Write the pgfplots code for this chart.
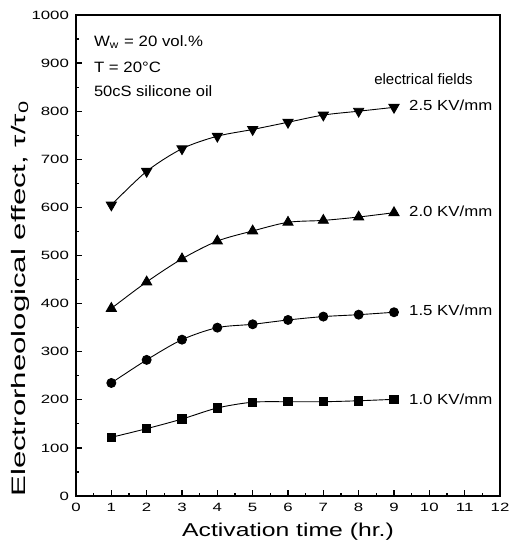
\documentclass[border=0pt]{standalone}
\usepackage{pgfplots}
\pgfplotsset{compat=1.18}
\usepackage{fontspec}
\setmainfont{Liberation Sans}
\usepackage{graphicx}
\begin{document}
\begin{tikzpicture}
\begin{axis}[
  at={(0,0)}, anchor=south west,
  scale only axis,
  width=212pt, height=240.5pt,
  xmin=0, xmax=12, ymin=0, ymax=1000,
  xtick={0,1,...,12}, ytick={0,100,...,1000},
  minor x tick num=1, minor y tick num=1,
  tick pos=left, tick align=inside,
  major tick length=3pt, minor tick length=1.6pt,
  axis line style={line width=0.8pt},
  every tick/.style={black, line width=0.6pt},
  /pgf/number format/assume math mode=true,
  /pgf/number format/1000 sep={},
  xticklabel={\scalebox{1.4}[1]{\fontsize{6}{7}\selectfont\pgfmathprintnumber{\tick}}},
  yticklabel={\scalebox{1.4}[1]{\fontsize{6}{7}\selectfont\pgfmathprintnumber{\tick}}},
  xlabel={\scalebox{1.33}[1]{\fontsize{9.3}{11}\selectfont Activation time (hr.)}},
  ylabel={\scalebox{1.6}[1]{\fontsize{9.75}{11}\selectfont Electrorheological effect, τ/τ\textsubscript{0}}},
  ylabel style={at={(axis description cs:-0.132,0.411)}, anchor=center},
  xlabel style={at={(axis description cs:0.5,-0.075)}, anchor=center},
]
\addplot[black, line width=0.45pt, smooth, mark=triangle*, mark options={rotate=180, fill=black, solid}, mark size=2.9pt] coordinates {
 (1,605) (2,675) (3,722) (4,748) (5,762) (6,777) (7,792) (8,800) (9,808)};
\addplot[black, line width=0.45pt, smooth, mark=triangle*, mark options={fill=black, solid}, mark size=2.9pt] coordinates {
 (1,390) (2,445) (3,493) (4,530) (5,551) (6,569) (7,573) (8,580) (9,589)};
\addplot[black, line width=0.45pt, smooth, mark=*, mark options={fill=black, solid}, mark size=2.25pt] coordinates {
 (1,235) (2,283) (3,325) (4,350) (5,357) (6,366) (7,373) (8,377) (9,382)};
\addplot[black, line width=0.45pt, smooth, mark=square*, mark options={fill=black, solid}, mark size=2.1pt] coordinates {
 (1,122) (2,140) (3,160) (4,183) (5,195) (6,196) (7,196) (8,198) (9,201)};
\node[anchor=west, inner sep=0pt] at (axis cs:0.5,944) {\scalebox{1.12}[1]{\fontsize{7.5}{9}\selectfont W\textsubscript{w} = 20 vol.\%}};
\node[anchor=west, inner sep=0pt] at (axis cs:0.5,892) {\scalebox{1.12}[1]{\fontsize{7.5}{9}\selectfont T = 20°C}};
\node[anchor=west, inner sep=0pt] at (axis cs:0.5,841) {\scalebox{1.1}[1]{\fontsize{7.5}{9}\selectfont 50cS silicone oil}};
\node[anchor=west, inner sep=0pt] at (axis cs:8.43,867) {\fontsize{7.5}{9}\selectfont electrical fields};
\node[anchor=west, inner sep=0pt] at (axis cs:9.42,813) {\scalebox{1.15}[1]{\fontsize{7.3}{9}\selectfont 2.5 KV/mm}};
\node[anchor=west, inner sep=0pt] at (axis cs:9.42,592) {\scalebox{1.15}[1]{\fontsize{7.3}{9}\selectfont 2.0 KV/mm}};
\node[anchor=west, inner sep=0pt] at (axis cs:9.42,387) {\scalebox{1.15}[1]{\fontsize{7.3}{9}\selectfont 1.5 KV/mm}};
\node[anchor=west, inner sep=0pt] at (axis cs:9.42,202) {\scalebox{1.15}[1]{\fontsize{7.3}{9}\selectfont 1.0 KV/mm}};
\end{axis}
\pgfresetboundingbox
\path[use as bounding box] (-38pt,-25pt) rectangle (217.5pt,248pt);
\end{tikzpicture}
\end{document}
